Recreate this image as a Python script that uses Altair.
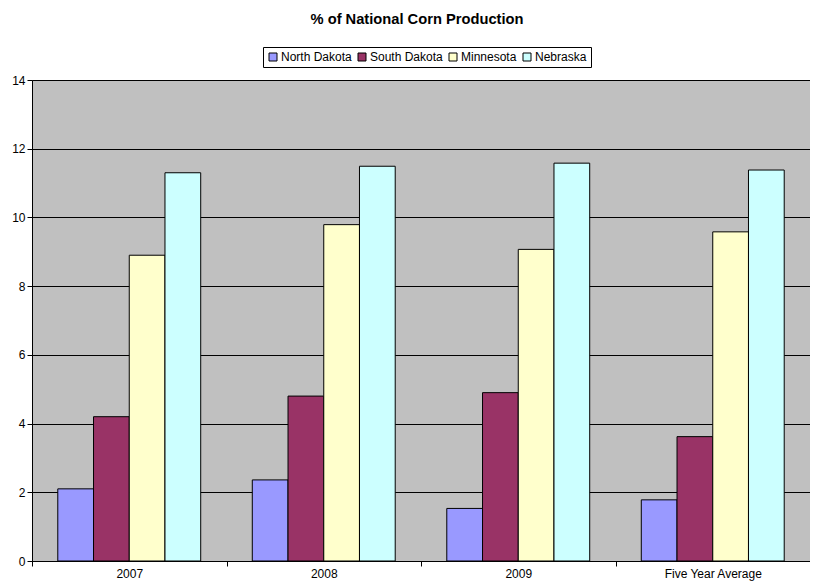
import altair as alt
import pandas as pd

years = ["2007", "2008", "2009", "Five Year Average"]
states = ["North Dakota", "South Dakota", "Minnesota", "Nebraska"]
colors = ["#9999FF", "#993366", "#FFFFCC", "#CCFFFF"]

north_dakota = [2.10, 2.36, 1.53, 1.78]
south_dakota = [4.20, 4.80, 4.90, 3.62]
minnesota = [8.90, 9.79, 9.07, 9.58]
nebraska = [11.30, 11.49, 11.58, 11.38]

series = {
    "North Dakota": north_dakota,
    "South Dakota": south_dakota,
    "Minnesota": minnesota,
    "Nebraska": nebraska,
}
rows = []
for s in states:
    for y, v in zip(years, series[s]):
        rows.append({"year": y, "state": s, "value": v})
df = pd.DataFrame(rows)

FONT = "Liberation Sans"

chart = (
    alt.Chart(df)
    .mark_bar(stroke="black", strokeWidth=1)
    .encode(
        x=alt.X(
            "year:N",
            sort=years,
            scale=alt.Scale(paddingInner=0, paddingOuter=0),
            axis=alt.Axis(
                title=None,
                labelAngle=0,
                tickBand="extent",
                tickSize=5,
                tickColor="black",
                domainColor="black",
                labelFont=FONT,
                labelFontSize=12,
                labelColor="black",
                labelPadding=2,
                grid=False,
            ),
        ),
        xOffset=alt.XOffset(
            "state:N",
            sort=states,
            scale=alt.Scale(paddingInner=0, paddingOuter=0.722),
        ),
        y=alt.Y(
            "value:Q",
            scale=alt.Scale(domain=[0, 14], nice=False),
            axis=alt.Axis(
                title=None,
                values=[0, 2, 4, 6, 8, 10, 12, 14],
                grid=True,
                gridColor="black",
                gridOpacity=1,
                gridWidth=1,
                tickSize=5,
                tickColor="black",
                domainColor="black",
                labelFont=FONT,
                labelFontSize=12,
                labelColor="black",
                labelPadding=2,
            ),
        ),
        color=alt.Color(
            "state:N",
            sort=states,
            scale=alt.Scale(domain=states, range=colors),
            legend=alt.Legend(
                title=None,
                orient="none",
                legendX=231,
                legendY=-33,
                direction="horizontal",
                strokeColor="black",
                fillColor="white",
                padding=4,
                symbolType="square",
                symbolSize=64,
                symbolStrokeColor="black",
                symbolStrokeWidth=1,
                symbolOpacity=1,
                labelFont=FONT,
                labelFontSize=12,
                labelColor="black",
                labelOffset=2,
                columnPadding=4,
            ),
        ),
    )
    .properties(
        width=778,
        height=481,
        title=alt.TitleParams(
            text="% of National Corn Production",
            font=FONT,
            fontSize=14.7,
            fontWeight="bold",
            color="black",
            anchor="middle",
            dx=-4,
            offset=20,
        ),
        autosize=alt.AutoSizeParams(type="none"),
        padding={"left": 24, "top": 72, "right": 0, "bottom": 22},
    )
    .configure_view(fill="#C0C0C0", stroke="#808080", strokeWidth=1)
)

chart.save("out.html", embed_options={"renderer": "svg", "actions": False})
